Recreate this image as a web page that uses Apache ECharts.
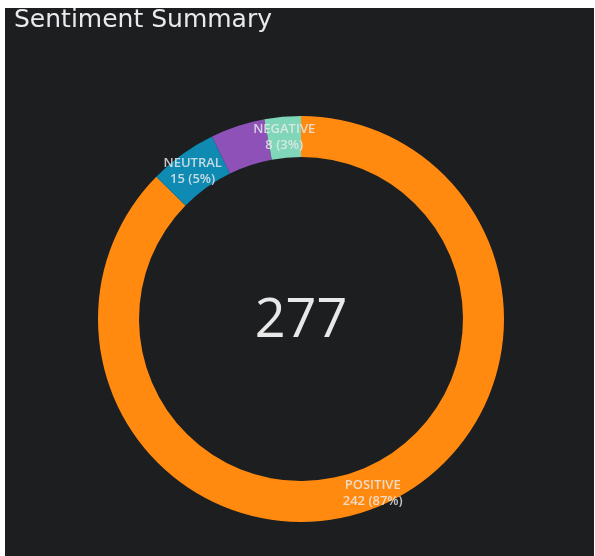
<!DOCTYPE html>
<html>
<head>
<meta charset="utf-8">
<script src="https://cdn.jsdelivr.net/npm/echarts@6/dist/echarts.min.js"></script>
<style>
  html, body { margin: 0; padding: 0; background: #ffffff; }
  #panel { position: absolute; left: 5px; top: 8px; width: 589px; height: 548px; background: #1d1e20; }
</style>
</head>
<body>
<div id="panel"></div>
<script>
// Sentiment counts, listed clockwise from 12 o'clock
const categories = ['POSITIVE', 'NEUTRAL', 'MIXED', 'NEGATIVE'];
const counts = [242, 15, 12, 8];
const colors = ['#ff8a0f', '#0f8ab3', '#8e51b8', '#7fd6b8'];
const showLabel = [true, true, false, true];

const total = counts.reduce((a, b) => a + b, 0);

const chart = echarts.init(document.getElementById('panel'), null, { renderer: 'canvas' });

chart.setOption({
  backgroundColor: '#1d1e20',
  animation: false,
  title: {
    text: 'Sentiment Summary',
    left: 9,
    top: 0,
    padding: 0,
    textStyle: {
      color: '#e8eaed',
      fontFamily: 'DejaVu Sans',
      fontSize: 25,
      fontWeight: 'normal'
    }
  },
  graphic: [{
    type: 'text',
    x: 296,
    y: 314,
    silent: true,
    style: {
      text: String(total),
      align: 'center',
      verticalAlign: 'middle',
      fill: '#e8e8e8',
      font: '54px "Open Sans"'
    }
  }],
  series: [{
    type: 'pie',
    center: [296, 311],
    radius: [162, 203],
    startAngle: 90,
    clockwise: true,
    silent: true,
    avoidLabelOverlap: false,
    label: {
      position: 'inside',
      formatter: p => p.name + '\n' + p.value + ' (' + Math.round(p.percent) + '%)',
      color: 'rgba(236,236,236,0.82)',
      fontFamily: 'Open Sans',
      fontSize: 13,
      fontWeight: 600,
      lineHeight: 16,
      textBorderWidth: 0
    },
    labelLayout: { dy: 3 },
    labelLine: { show: false },
    itemStyle: { borderWidth: 0 },
    data: categories.map((name, i) => ({
      name: name,
      value: counts[i],
      itemStyle: { color: colors[i] },
      label: { show: showLabel[i] }
    }))
  }]
});
</script>
</body>
</html>
